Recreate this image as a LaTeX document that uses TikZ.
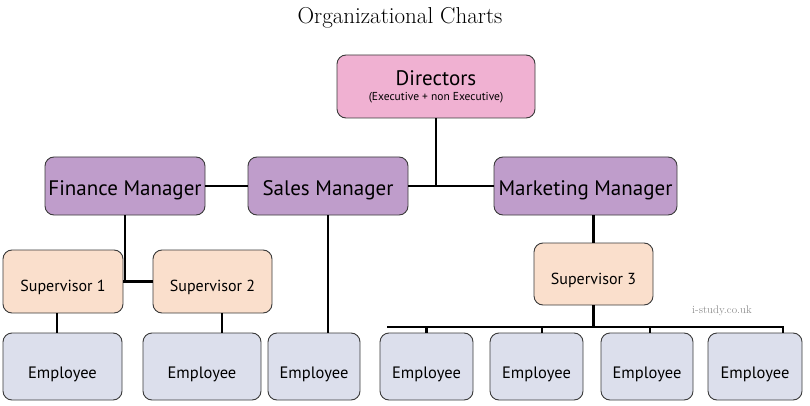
\documentclass[tikz,border=0pt]{standalone}
\usepackage{fontspec}
\usepackage{tikz}
\usepackage{xcolor}
\usetikzlibrary{positioning,calc}
\newfontfamily\boxfont{PT Sans}
\definecolor{cDir}{HTML}{F0B1D2}
\definecolor{cMan}{HTML}{BF9DCB}
\definecolor{cSup}{HTML}{FADFCC}
\definecolor{cEmp}{HTML}{DCDFEC}
\definecolor{cEdge}{HTML}{3A3A3A}
\tikzset{
  card/.style={rounded corners=9pt,draw=cEdge,line width=0.9pt,
              inner sep=0pt,align=center,font=\boxfont},
  dirbox/.style={card,fill=cDir,minimum width=198pt,minimum height=63pt},
  manbox/.style={card,fill=cMan,minimum width=160pt,minimum height=58pt,
              text height=19.5pt,text depth=0.8pt,
              font=\boxfont\fontsize{21}{24}\selectfont},
  supbox/.style={card,fill=cSup,minimum width=119pt,minimum height=63pt,
              text height=19.5pt,text depth=0.5pt,
              font=\boxfont\fontsize{16}{19}\selectfont},
  empbox/.style={card,fill=cEmp,minimum height=67pt,
              text height=24pt,text depth=0.5pt,
              font=\boxfont\fontsize{16.5}{19}\selectfont},
  link/.style={line width=2.6pt,black},
}

\begin{document}
\begin{tikzpicture}[x=1pt,y=-1pt]
  \useasboundingbox (0,0) rectangle (810,406);
  \node (title) at (400,18) {\fontsize{23}{28}\selectfont Organizational Charts};
  \node[dirbox] (dir) at (436,86.5)
     {{\fontsize{21}{24}\selectfont Directors}\\[3pt]
      {\fontsize{11.5}{13}\selectfont (Executive + non Executive)}};
  % managers
  \node[manbox] (fin) at (125,186) {Finance Manager};
  \node[manbox] (sales) at (328,186) {Sales Manager};
  \node[manbox,minimum width=183pt] (mkt) at (585.5,186) {Marketing Manager};
  % supervisors
  \node[supbox,minimum width=120pt] (sup1) at (63,281.5) {Supervisor 1};
  \node[supbox] (sup2) at (212.5,281.5) {Supervisor 2};
  \node[supbox,minimum height=62pt,text height=21pt] (sup3) at (593.5,274) {Supervisor 3};
  % employees
  \node[empbox,minimum width=119pt] (emp1) at (62.5,366.5) {Employee};
  \node[empbox,minimum width=118pt] (emp2) at (202,366.5) {Employee};
  \node[empbox,minimum width=92pt] (emp3) at (314,366.5) {Employee};
  \node[empbox,minimum width=93pt] (emp4) at (426.5,366.5) {Employee};
  \node[empbox,minimum width=93pt] (emp5) at (536.5,366.5) {Employee};
  \node[empbox,minimum width=92pt] (emp6) at (647,366.5) {Employee};
  \node[empbox,minimum width=94pt] (emp7) at (755,366.5) {Employee};
  \node[text=black!45,font=\fontsize{11}{13}\selectfont] (mark) at (722,311) {i-study.co.uk};
  % connectors
  \draw[link] (fin) -- (sales);
  \draw[link] (sales) -- (mkt);
  \draw[link] (dir.south) -- (dir.south |- mkt.west);
  \draw[link] (fin.south) -- (fin.south |- sup1.east);
  \draw[link] (sup1) -- (sup2);
  \draw[link] ([xshift=-6pt]sup1.south) -- ([xshift=-6pt]sup1.south |- emp1.north);
  \draw[link] ([xshift=9.5pt]sup2.south) -- ([xshift=9.5pt]sup2.south |- emp2.north);
  \draw[link] (sales.south) -- (sales.south |- emp3.north);
  \draw[link] (mkt.south -| sup3.north) -- (sup3.north);
  \coordinate (barL) at (387,327);
  \coordinate (barR) at (784,327);
  \draw[link] (barL) -- (barR);
  \draw[link] (sup3.south) -- (sup3.south |- barL);
  \foreach \e/\dx in {emp4/0,emp5/5.5,emp6/3,emp7/28}
    \draw[link] ([xshift=\dx pt]\e.north |- barL) -- ([xshift=\dx pt]\e.north);
\end{tikzpicture}
\end{document}
